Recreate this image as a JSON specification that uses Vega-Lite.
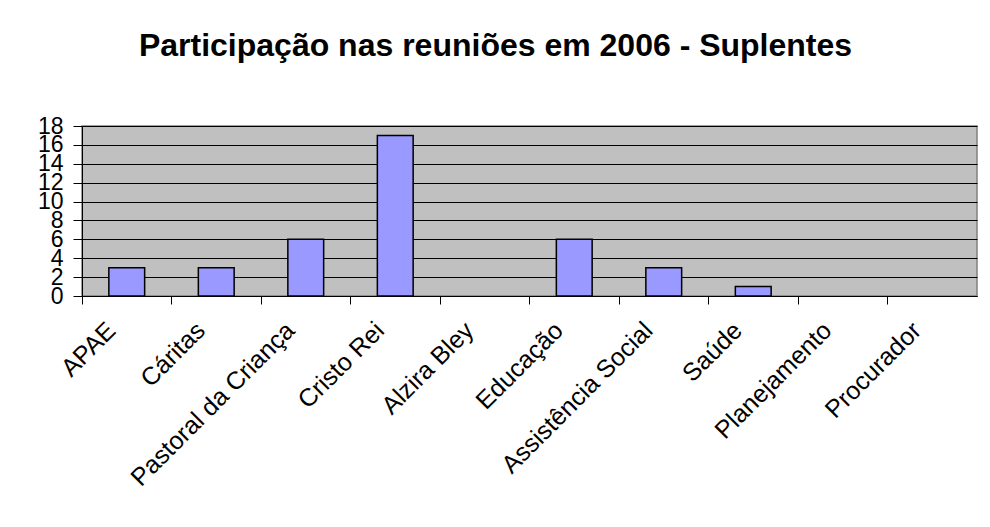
{
  "$schema": "https://vega.github.io/schema/vega-lite/v6.json",
  "width": 895,
  "height": 170,
  "autosize": {"type": "none"},
  "padding": {"left": 82, "top": 126, "right": 13, "bottom": 231},
  "background": "white",
  "title": {
    "text": "Participação nas reuniões em 2006 - Suplentes",
    "font": "Liberation Sans",
    "fontSize": 32,
    "fontWeight": "bold",
    "color": "black",
    "anchor": "middle",
    "dx": -34,
    "offset": 52
  },
  "data": {
    "values": [
      {"entidade": "APAE", "reunioes": 3},
      {"entidade": "Cáritas", "reunioes": 3},
      {"entidade": "Pastoral da Criança", "reunioes": 6},
      {"entidade": "Cristo Rei", "reunioes": 17},
      {"entidade": "Alzira Bley", "reunioes": 0},
      {"entidade": "Educação", "reunioes": 6},
      {"entidade": "Assistência Social", "reunioes": 3},
      {"entidade": "Saúde", "reunioes": 1},
      {"entidade": "Planejamento", "reunioes": 0},
      {"entidade": "Procurador", "reunioes": 0}
    ]
  },
  "mark": {"type": "bar", "fill": "#9999FF", "stroke": "black", "strokeWidth": 1.5},
  "encoding": {
    "x": {
      "field": "entidade",
      "type": "nominal",
      "sort": null,
      "scale": {"paddingInner": 0.6, "paddingOuter": 0.3},
      "axis": {
        "title": null,
        "labelAngle": -45,
        "labelAlign": "right",
        "labelBaseline": "middle",
        "labelFont": "Liberation Sans",
        "labelFontSize": 25,
        "labelColor": "black",
        "labelPadding": 22,
        "labelOffset": 29,
        "tickOffset": -44.75,
        "tickSize": 8,
        "tickColor": "black",
        "domainColor": "black",
        "labelOverlap": false,
        "labelLimit": 400
      }
    },
    "y": {
      "field": "reunioes",
      "type": "quantitative",
      "scale": {"domain": [0, 18], "nice": false},
      "axis": {
        "title": null,
        "values": [0, 2, 4, 6, 8, 10, 12, 14, 16, 18],
        "labelFont": "Liberation Sans",
        "labelFontSize": 23,
        "labelColor": "black",
        "labelPadding": 10,
        "tickSize": 9,
        "tickColor": "black",
        "domainColor": "black",
        "gridColor": "black",
        "gridOpacity": 1,
        "labelOverlap": false,
        "labelFlush": false
      }
    },
    "strokeOpacity": {"condition": {"test": "datum.reunioes == 0", "value": 0}, "value": 1}
  },
  "config": {
    "view": {"fill": "#C0C0C0", "stroke": "#808080", "strokeWidth": 1.5}
  }
}
